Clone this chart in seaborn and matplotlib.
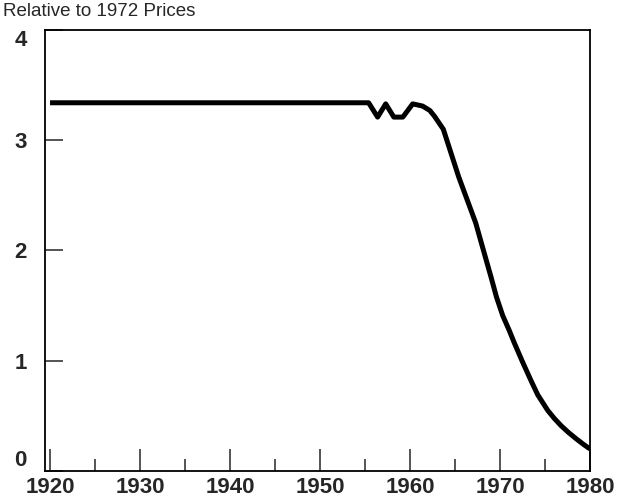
import numpy as np
import pandas as pd
import matplotlib
matplotlib.use("Agg")
import matplotlib.pyplot as plt
import seaborn as sns

# values
years = [1920.0, 1955.4, 1956.4, 1957.3, 1958.2, 1959.2, 1960.3, 1961.4,
         1962.2, 1962.7, 1963.7, 1965.4, 1967.3, 1968.2, 1969.0, 1969.6,
         1970.3, 1971.0, 1971.6, 1972.5, 1973.5, 1974.2, 1975.3, 1976.0,
         1976.8, 1977.6, 1978.5, 1979.3, 1980.0]
price = [3.34, 3.34, 3.21, 3.33, 3.21, 3.21, 3.33, 3.31,
         3.27, 3.22, 3.10, 2.67, 2.25, 1.99, 1.76, 1.58,
         1.41, 1.28, 1.16, 0.99, 0.81, 0.69, 0.55, 0.48,
         0.41, 0.35, 0.29, 0.24, 0.20]

major_years = [1920, 1930, 1940, 1950, 1960, 1970, 1980]
minor_years = [1925, 1935, 1945, 1955, 1965, 1975]
y_ticks = [0, 1, 2, 3, 4]
y_label_text = "Relative to 1972 Prices"

df = pd.DataFrame({"year": years, "price": price})

sns.set_style("ticks")
plt.rcParams["font.family"] = ["Liberation Sans", "DejaVu Sans"]

fig = plt.figure(figsize=(6.27, 5.01), dpi=100)
ax = fig.add_axes([45 / 627, 30 / 501, 545 / 627, 441 / 501])

sns.lineplot(data=df, x="year", y="price", ax=ax, color="black",
             linewidth=3.6, estimator=None, sort=False)
ax.lines[0].set_solid_joinstyle("round")
ax.lines[0].set_solid_capstyle("butt")

ax.set_xlim(1919.44, 1980)
ax.set_ylim(0, 4.0)

ax.set_xticks(major_years)
ax.set_xticks(minor_years, minor=True)
ax.set_yticks(y_ticks)
ax.tick_params(axis="x", which="major", direction="in", length=16, width=1.1,
               pad=4, labelsize=16)
ax.tick_params(axis="x", which="minor", direction="in", length=9, width=1.1)
ax.tick_params(axis="y", which="major", direction="in", length=13, width=1.1,
               pad=13, labelsize=16)
for lab in ax.get_xticklabels() + ax.get_yticklabels():
    lab.set_fontweight("bold")
ylabs = ax.get_yticklabels()
ylabs[0].set_va("bottom")
ylabs[-1].set_va("top")

for s in ax.spines.values():
    s.set_visible(True)
    s.set_linewidth(1.3)
    s.set_color("black")

ax.set_xlabel("")
ax.set_ylabel("")
fig.text(3 / 627, 1 - 12 / 501, y_label_text, fontsize=13.5, va="center",
         ha="left")

fig.savefig("out.png", dpi=100)
